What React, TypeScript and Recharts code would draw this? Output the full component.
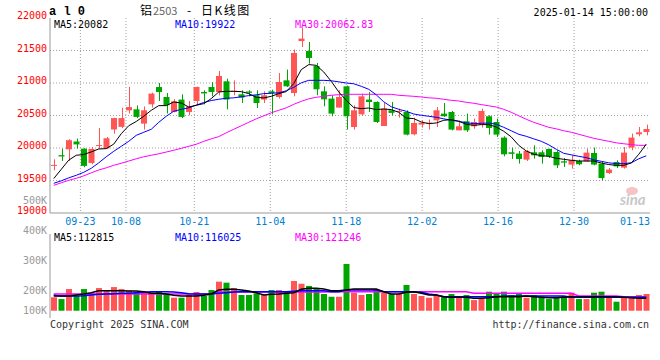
import React from 'react';
import { ComposedChart, Bar, Line, XAxis, YAxis, CartesianGrid, Cell } from 'recharts';

const RED = '#ff5555';
const GREEN = '#00a600';
const BORDER = '#999';
const MONO = '"DejaVu Sans Mono", monospace';

const dates = [
  '09-13', '09-18', '09-19', '09-20', '09-23', '09-24', '09-25', '09-26', '09-27', '09-30',
  '10-08', '10-09', '10-10', '10-11', '10-14', '10-15', '10-16', '10-17', '10-18', '10-21',
  '10-22', '10-23', '10-24', '10-25', '10-28', '10-29', '10-30', '10-31', '11-01', '11-04',
  '11-05', '11-06', '11-07', '11-08', '11-11', '11-12', '11-13', '11-14', '11-15', '11-18',
  '11-19', '11-20', '11-21', '11-22', '11-25', '11-26', '11-27', '11-28', '11-29', '12-02',
  '12-03', '12-04', '12-05', '12-06', '12-09', '12-10', '12-11', '12-12', '12-13', '12-16',
  '12-17', '12-18', '12-19', '12-20', '12-23', '12-24', '12-25', '12-26', '12-27', '12-30',
  '12-31', '01-02', '01-03', '01-06', '01-07', '01-08', '01-09', '01-10', '01-13', '01-14',
];

const open = [
  19725, 19890, 19980, 20100, 19990, 19770, 20035, 19995, 20285, 20325,
  20580, 20595, 20375, 20672, 20938, 20785, 20555, 20745, 20555, 20723,
  20862, 20938, 20862, 21026, 20870, 20826, 20870, 20811, 20745, 20872,
  20785, 21041, 20846, 21645, 21492, 21262, 20872, 20760, 20622, 20949,
  20323, 20518, 20745, 20708, 20338, 20580, 20560, 20554, 20211, 20360,
  20380, 20426, 20529, 20554, 20272, 20411, 20334, 20360, 20488, 20400,
  20160, 19934, 19914, 19821, 19934, 19934, 19985, 19939, 19795, 19745,
  19800, 19795, 19923, 19760, 19615, 19785, 19698, 20006, 20211, 20246,
];
const high = [
  19826, 19990, 20135, 20145, 19995, 20015, 20308, 20170, 20465, 20620,
  20940, 20655, 20640, 20852, 21000, 20846, 20750, 20826, 20723, 20945,
  20888, 21015, 21185, 21067, 21041, 20888, 20888, 20888, 20872, 20898,
  21154, 21206, 21514, 21850, 21631, 21308, 20949, 20811, 20888, 20960,
  20657, 20837, 20862, 20718, 20692, 20708, 20606, 20580, 20467, 20426,
  20437, 20631, 20692, 20570, 20426, 20529, 20452, 20606, 20503, 20452,
  20180, 20006, 19954, 19970, 20041, 19965, 19990, 19965, 19846, 19888,
  19821, 19990, 20006, 19785, 19692, 19811, 20015, 20221, 20323, 20360,
];
const low = [
  19657, 19800, 19800, 19990, 19705, 19750, 19990, 19990, 20220, 20305,
  20530, 20460, 20285, 20622, 20723, 20530, 20550, 20461, 20503, 20657,
  20672, 20795, 20810, 20595, 20811, 20692, 20795, 20615, 20692, 20518,
  20760, 20938, 20795, 21554, 21298, 20811, 20641, 20488, 20620, 20283,
  20283, 20503, 20554, 20385, 20338, 20503, 20467, 20195, 20195, 20314,
  20283, 20323, 20477, 20270, 20272, 20246, 20298, 20314, 20206, 20170,
  19872, 19831, 19760, 19800, 19837, 19760, 19846, 19692, 19708, 19683,
  19734, 19785, 19734, 19503, 19600, 19692, 19683, 19965, 20180, 20195,
];
const close = [
  19740, 19870, 20120, 20055, 19725, 19985, 20045, 20150, 20460, 20460,
  20630, 20478, 20580, 20837, 20862, 20657, 20718, 20478, 20640, 20938,
  20840, 20862, 21108, 20745, 20880, 20775, 20850, 20692, 20811, 20846,
  21015, 20949, 21462, 21683, 21385, 20903, 20749, 20529, 20785, 20488,
  20580, 20795, 20708, 20400, 20606, 20540, 20570, 20206, 20385, 20390,
  20390, 20580, 20488, 20283, 20334, 20272, 20400, 20570, 20308, 20206,
  19903, 19910, 19831, 19954, 19888, 19862, 19872, 19734, 19775, 19811,
  19750, 19929, 19745, 19538, 19668, 19718, 19929, 20160, 20241, 20292,
];

const ma5 = [
  19530, 19672, 19814, 19888, 19900, 19940, 19985, 19990, 20060, 20220,
  20343, 20408, 20489, 20580, 20652, 20652, 20708, 20692, 20631, 20657,
  20683, 20760, 20862, 20872, 20872, 20867, 20837, 20780, 20770, 20795,
  20837, 20868, 20991, 21206, 21283, 21272, 21169, 21026, 20862, 20734,
  20622, 20606, 20615, 20591, 20600, 20591, 20549, 20461, 20452, 20400,
  20375, 20385, 20426, 20437, 20411, 20365, 20349, 20360, 20360, 20323,
  20257, 20170, 20041, 19954, 19903, 19883, 19872, 19842, 19826, 19811,
  19800, 19800, 19800, 19769, 19745, 19734, 19734, 19769, 19903, 20060,
];
const ma10 = [
  19457, 19495, 19541, 19580, 19626, 19688, 19772, 19865, 19949, 20026,
  20103, 20195, 20242, 20288, 20395, 20488, 20565, 20595, 20618, 20660,
  20700, 20730, 20750, 20765, 20772, 20788, 20806, 20818, 20837, 20842,
  20849, 20880, 20934, 21003, 21041, 21041, 21041, 21034, 21018, 21000,
  20988, 20949, 20903, 20818, 20711, 20634, 20595, 20565, 20523, 20503,
  20488, 20472, 20449, 20426, 20411, 20388, 20375, 20380, 20385, 20365,
  20318, 20265, 20211, 20180, 20141, 20103, 20049, 19980, 19918, 19895,
  19872, 19852, 19818, 19795, 19772, 19760, 19760, 19772, 19834, 19880,
];
const ma30 = [
  19426, 19465, 19503, 19534, 19572, 19618, 19662, 19695, 19734, 19765,
  19800, 19834, 19865, 19888, 19911, 19938, 19965, 19995, 20026, 20057,
  20103, 20141, 20175, 20234, 20288, 20342, 20395, 20449, 20495, 20542,
  20580, 20618, 20672, 20718, 20757, 20780, 20795, 20811, 20821, 20826,
  20826, 20826, 20826, 20826, 20826, 20826, 20811, 20803, 20795, 20785,
  20772, 20765, 20749, 20734, 20723, 20703, 20688, 20668, 20649, 20631,
  20595, 20549, 20495, 20442, 20395, 20357, 20318, 20295, 20265, 20242,
  20211, 20180, 20149, 20126, 20103, 20080, 20065, 20052, 20041, 20041,
];

// volume in thousands
const volumeK = [
  122, 106, 197, 134, 197, 158, 206, 179, 215, 197,
  182, 173, 164, 164, 179, 158, 118, 118, 143, 170,
  136, 188, 264, 255, 206, 143, 143, 158, 143, 188,
  188, 173, 270, 245, 225, 204, 152, 127, 127, 425,
  164, 143, 152, 188, 164, 152, 152, 234, 152, 134,
  118, 143, 134, 152, 127, 143, 97, 113, 173, 152,
  173, 143, 152, 118, 143, 127, 106, 127, 134, 164,
  106, 106, 164, 173, 127, 82, 127, 127, 143, 152,
];
const volMa5 = [
  134, 134, 134, 143, 152, 164, 182, 182, 182, 182,
  179, 179, 173, 158, 158, 152, 140, 134, 134, 134,
  140, 152, 188, 195, 195, 188, 179, 164, 143, 149,
  152, 158, 164, 195, 204, 204, 197, 182, 182, 188,
  197, 197, 197, 197, 173, 152, 152, 167, 173, 158,
  143, 143, 127, 122, 122, 122, 113, 113, 118, 127,
  127, 127, 127, 134, 127, 122, 118, 118, 122, 127,
  127, 127, 127, 127, 127, 127, 122, 118, 113, 113,
];
const volMa10 = [
  140, 134, 134, 134, 137, 143, 149, 152, 155, 158,
  158, 164, 168, 173, 173, 173, 170, 164, 155, 152,
  152, 152, 158, 164, 170, 173, 173, 173, 173, 173,
  173, 173, 178, 182, 182, 182, 182, 173, 173, 188,
  188, 188, 188, 188, 173, 173, 173, 173, 173, 167,
  152, 143, 127, 127, 127, 127, 127, 127, 127, 127,
  134, 134, 134, 134, 134, 134, 134, 134, 134, 122,
  122, 122, 122, 122, 122, 122, 122, 122, 122, 122,
];
const volMa30 = [
  152, 152, 152, 152, 152, 152, 152, 152, 152, 152,
  152, 152, 152, 152, 152, 152, 152, 152, 152, 152,
  152, 152, 170, 170, 170, 170, 170, 170, 170, 170,
  170, 170, 170, 170, 170, 170, 170, 173, 173, 173,
  173, 173, 173, 173, 173, 173, 173, 173, 173, 173,
  173, 173, 173, 173, 173, 173, 158, 158, 158, 158,
  158, 158, 158, 158, 158, 158, 158, 158, 158, 158,
  134, 134, 134, 134, 134, 134, 127, 127, 127, 127,
];

const priceTicks = [19000, 19500, 20000, 20500, 21000, 21500, 22000];
const priceGrid = [19500, 20000, 20500, 21000, 21500];
const volTicks = [100, 200, 300, 400, 500];
const labelIdx = [4, 10, 19, 29, 39, 49, 59, 69, 78];
const gridIdx = [4, 10, 19, 29, 39, 49, 59, 69];

const rows = dates.map((date, i) => ({
  date,
  idx: i,
  open: open[i],
  high: high[i],
  low: low[i],
  close: close[i],
  ma5: ma5[i],
  ma10: ma10[i],
  ma30: ma30[i],
  vol: volumeK[i],
  vma5: volMa5[i],
  vma10: volMa10[i],
  vma30: volMa30[i],
}));

function Candle(props: any) {
  const { x, y, width, height, payload } = props;
  const top = Math.min(y, y + height);
  const h = Math.abs(height);
  const span = payload.high - payload.low || 1;
  const toY = (v: number) => top + ((payload.high - v) / span) * h;
  const color = payload.close >= payload.open ? RED : GREEN;
  const bodyTop = toY(Math.max(payload.open, payload.close));
  const bodyH = Math.max(1, toY(Math.min(payload.open, payload.close)) - bodyTop);
  const cx = Math.round(x + width / 2) + 0.5;
  return (
    <g>
      <line x1={cx} x2={cx} y1={top} y2={top + h} stroke={color} strokeWidth={1} />
      <rect x={x} y={bodyTop} width={width} height={bodyH} fill={color} />
    </g>
  );
}

const PriceTick = ({ x, y, payload }: any) => (
  <text x={x - 3} y={y + 1.2} textAnchor="end" fill="#ff0000" fontSize={10} fontFamily={MONO}>
    {payload.value}
  </text>
);

const DateTick = ({ x, y, payload }: any) => (
  <text x={Math.min(x, 635)} y={y + 12.3} textAnchor="middle" fill="#0080d0" fontSize={10} fontFamily={MONO}>
    {dates[payload.value]}
  </text>
);

// the lowest label sits on the bar baseline instead of below the panel
const VolTick = ({ x, y, payload }: any) => (
  <text x={x - 3} y={Math.min(y, 120.7) + 3.6} textAnchor="end" fill="#999" fontSize={10} fontFamily={MONO}>
    {payload.value}K
  </text>
);

const axisLine = { stroke: BORDER };

export default function App() {
  return (
    <div style={{ position: 'absolute', left: 0, top: 0, width: 660, height: 360, background: '#fff' }}>
      <div style={{ position: 'absolute', left: 0, top: 0 }}>
        <ComposedChart width={660} height={233} data={rows} margin={{ top: 18, right: 10, bottom: 0, left: 0 }}>
          <XAxis
            xAxisId="grid"
            dataKey="idx"
            type="number"
            domain={[0, 79]}
            ticks={labelIdx}
            interval={0}
            height={20}
            axisLine={axisLine}
            tickLine={false}
            tickSize={0}
            tickMargin={0}
            tick={<DateTick />}
          />
          <XAxis xAxisId="cat" dataKey="date" hide height={0} />
          <XAxis xAxisId="top" orientation="top" dataKey="idx" type="number" domain={[0, 79]} height={0} axisLine={axisLine} tickLine={false} tick={false} />
          <YAxis
            yAxisId="p"
            domain={[19000, 22000]}
            ticks={priceTicks}
            interval={0}
            width={50}
            axisLine={axisLine}
            tickLine={false}
            tickSize={0}
            tickMargin={0}
            tick={<PriceTick />}
          />
          <YAxis yAxisId="r" orientation="right" domain={[0, 1]} width={0} axisLine={axisLine} tickLine={false} tick={false} />
          <CartesianGrid
            xAxisId="grid"
            yAxisId="p"
            stroke="#a0a0a0"
            strokeDasharray="1 2"
            verticalValues={gridIdx}
            horizontalValues={priceGrid}
          />
          <Bar
            xAxisId="cat"
            yAxisId="p"
            dataKey={(d: any) => [d.low, d.high]}
            barSize={6}
            shape={<Candle />}
            isAnimationActive={false}
          />
          <Line xAxisId="cat" yAxisId="p" dataKey="ma30" stroke="#ff00ff" strokeWidth={1} dot={false} isAnimationActive={false} />
          <Line xAxisId="cat" yAxisId="p" dataKey="ma10" stroke="#0000ff" strokeWidth={1} dot={false} isAnimationActive={false} />
          <Line xAxisId="cat" yAxisId="p" dataKey="ma5" stroke="#000" strokeWidth={1} dot={false} isAnimationActive={false} />
        </ComposedChart>
      </div>

      <div style={{ position: 'absolute', left: 0, top: 190 }}>
        <ComposedChart width={660} height={128} data={rows} margin={{ top: 44, right: 10, bottom: 0, left: 0 }}>
          <XAxis xAxisId="grid" dataKey="idx" type="number" domain={[0, 79]} height={0} axisLine={axisLine} tickLine={false} tick={false} />
          <XAxis xAxisId="cat" dataKey="date" hide height={0} />
          <XAxis xAxisId="top" orientation="top" dataKey="idx" type="number" domain={[0, 79]} height={0} axisLine={axisLine} tickLine={false} tick={false} />
          <YAxis
            yAxisId="lbl"
            domain={[109, 389]}
            allowDataOverflow
            ticks={volTicks}
            interval={0}
            width={50}
            axisLine={axisLine}
            tickLine={false}
            tickSize={0}
            tickMargin={0}
            tick={<VolTick />}
          />
          <YAxis yAxisId="bar" domain={[-66, 697]} allowDataOverflow hide width={0} />
          <YAxis yAxisId="frac" domain={[0, 4]} hide width={0} />
          <YAxis yAxisId="r" orientation="right" domain={[0, 1]} width={0} axisLine={axisLine} tickLine={false} tick={false} />
          <CartesianGrid
            xAxisId="grid"
            yAxisId="frac"
            stroke="#a0a0a0"
            strokeDasharray="1 2"
            verticalValues={gridIdx}
            horizontalValues={[1, 2, 3]}
          />
          <Bar xAxisId="cat" yAxisId="bar" dataKey="vol" barSize={6} isAnimationActive={false}>
            {rows.map((r, i) => (
              <Cell key={i} fill={r.close >= r.open ? RED : GREEN} />
            ))}
          </Bar>
          <Line xAxisId="cat" yAxisId="bar" dataKey="vma30" stroke="#ff00ff" strokeWidth={1.5} dot={false} isAnimationActive={false} />
          <Line xAxisId="cat" yAxisId="bar" dataKey="vma10" stroke="#0000ff" strokeWidth={1.5} dot={false} isAnimationActive={false} />
          <Line xAxisId="cat" yAxisId="bar" dataKey="vma5" stroke="#000" strokeWidth={1.5} dot={false} isAnimationActive={false} />
        </ComposedChart>
      </div>

      <svg width={660} height={360} style={{ position: 'absolute', left: 0, top: 0, pointerEvents: 'none' }}>
        <text x={49} y={15} fontSize={12} fontWeight="bold" fontFamily='"Liberation Mono", monospace' fill="#000">a l 0</text>
        <text x={140} y={15} fontSize={12} fontFamily='"Noto Sans CJK SC"' fill="#000">铝</text>
        <text x={153} y={15} fontSize={11} fontFamily='"Noto Sans CJK SC"' fill="#666">2503</text>
        <text x={187} y={15} fontSize={12} fontFamily='"Noto Sans CJK SC"' fill="#000">-</text>
        <text x={201} y={15} fontSize={12} letterSpacing={1.5} fontFamily='"Noto Sans CJK SC"' fill="#000">日K线图</text>
        <text x={648} y={15.7} textAnchor="end" fontSize={10} fontFamily={MONO} fill="#000">2025-01-14 15:00:00</text>

        <text x={54} y={27.5} fontSize={10} fontFamily={MONO} fill="#000">MA5:20082</text>
        <text x={175} y={27.5} fontSize={10} fontFamily={MONO} fill="#0000ff">MA10:19922</text>
        <text x={295} y={27.5} fontSize={10} fontFamily={MONO} fill="#ff00ff">MA30:20062.83</text>

        <text x={54} y={241} fontSize={10} fontFamily={MONO} fill="#000">MA5:112815</text>
        <text x={175} y={241} fontSize={10} fontFamily={MONO} fill="#0000ff">MA10:116025</text>
        <text x={295} y={241} fontSize={10} fontFamily={MONO} fill="#ff00ff">MA30:121246</text>

        <ellipse cx={632} cy={191} rx={6} ry={4} fill="#f6c4c4" />
        <text x={620} y={205} fontSize={15} fontStyle="italic" fontWeight="bold" fontFamily="Lato, sans-serif" fill="#c8c8c8">sina</text>

        <text x={50} y={327.5} fontSize={10} fontFamily={MONO} fill="#333">Copyright 2025 SINA.COM</text>
        <text x={649} y={327.5} textAnchor="end" fontSize={10} fontFamily={MONO} fill="#333">http://finance.sina.com.cn</text>
      </svg>
    </div>
  );
}
